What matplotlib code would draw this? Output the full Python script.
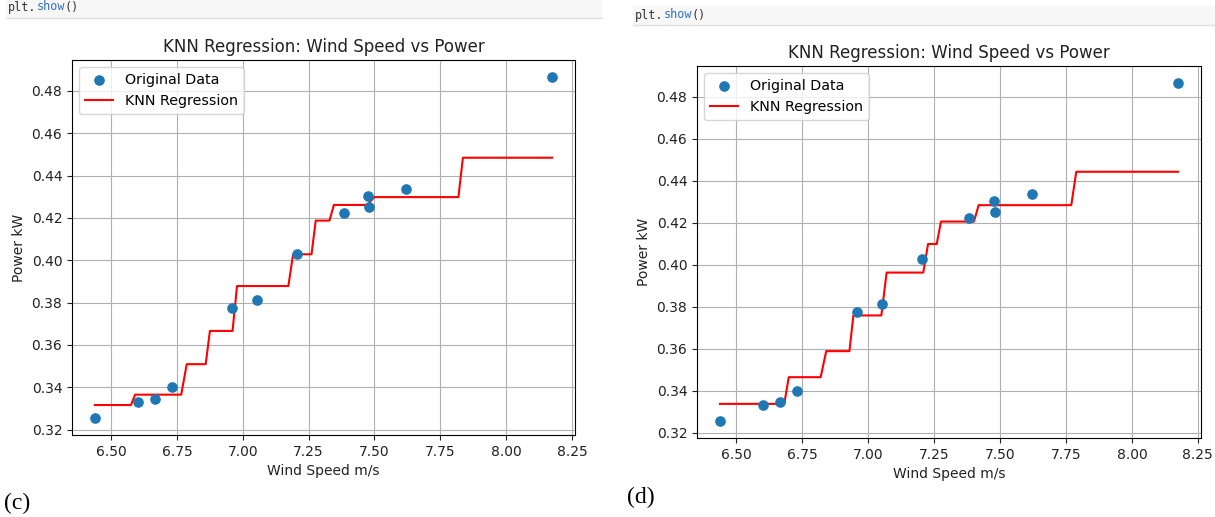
"""KNN regression: wind speed vs power, two panels (c) and (d)"""
import numpy as np
import matplotlib.pyplot as plt
from matplotlib.patches import Rectangle
from matplotlib.lines import Line2D

"""Data read off the picture"""
wind = [6.438, 6.603, 6.666, 6.731, 6.958, 7.054, 7.204, 7.384, 7.476, 7.479, 7.620, 8.175]
power = [0.3255, 0.3330, 0.3346, 0.3400, 0.3772, 0.3814, 0.4028, 0.4224, 0.4303, 0.4251, 0.4334, 0.4865]

# knn prediction steps, panel (c)
c_start = [6.438, 6.591, 6.787, 6.875, 6.978, 7.191, 7.277, 7.346, 7.499, 7.836]
c_end = [6.575, 6.766, 6.859, 6.961, 7.173, 7.261, 7.329, 7.473, 7.819, 8.175]
c_level = [0.3316, 0.3365, 0.3509, 0.3666, 0.3878, 0.4028, 0.4187, 0.4261, 0.4298, 0.4484]

# knn prediction steps, panel (d)
d_start = [6.438, 6.699, 6.841, 6.944, 7.070, 7.227, 7.276, 7.419, 7.789]
d_end = [6.682, 6.820, 6.929, 7.050, 7.209, 7.260, 7.401, 7.770, 8.175]
d_level = [0.3337, 0.3464, 0.3588, 0.3758, 0.3962, 0.4098, 0.4205, 0.4283, 0.4442]

W, H = 1215, 517
fig = plt.figure(figsize=(W/100, H/100), dpi=100)


def px(x0, y0, x1, y1):
    """pixel box (top-left origin) -> figure fraction rect"""
    return [x0/W, 1 - y1/H, (x1-x0)/W, (y1-y0)/H]


def steps(start, end, level):
    xs, ys = [], []
    for a, b, v in zip(start, end, level):
        xs += [a, b]
        ys += [v, v]
    return xs, ys


def panel(rect, start, end, level):
    ax = fig.add_axes(rect)
    ax.scatter(wind, power, s=44, color='#1f77b4', label='Original Data', zorder=3)
    xs, ys = steps(start, end, level)
    ax.plot(xs, ys, color='red', lw=1.5, label='KNN Regression', zorder=2)
    ax.set_xticks([6.5, 6.75, 7.0, 7.25, 7.5, 7.75, 8.0, 8.25])
    ax.set_xticklabels(['6.50', '6.75', '7.00', '7.25', '7.50', '7.75', '8.00', '8.25'])
    ax.set_yticks([0.32, 0.34, 0.36, 0.38, 0.40, 0.42, 0.44, 0.46, 0.48])
    ax.set_yticklabels(['0.32', '0.34', '0.36', '0.38', '0.40', '0.42', '0.44', '0.46', '0.48'])
    ax.tick_params(labelsize=10, colors='#222222')
    ax.set_xlabel('Wind Speed m/s', fontsize=10, color='#222222', labelpad=4)
    ax.set_ylabel('Power kW', fontsize=10, color='#222222', labelpad=4)
    ax.set_title('KNN Regression: Wind Speed vs Power', fontsize=12, color='#222222', pad=6)
    ax.grid(True, color='#b0b0b0', lw=0.8)
    ax.legend(loc='upper left', fontsize=10.3)
    return ax


"""Code cell strips at the top"""
fig.add_artist(Rectangle((6/W, 1 - 18/H), 596/W, 18/H, transform=fig.transFigure,
                         facecolor='#f7f7f7', edgecolor='none'))
fig.add_artist(Line2D([6/W, 602/W], [1 - 18/H, 1 - 18/H], transform=fig.transFigure,
                      color='#e0e0e0', lw=1))
fig.add_artist(Rectangle((633/W, 1 - 25/H), 582/W, 19/H, transform=fig.transFigure,
                         facecolor='#f7f7f7', edgecolor='none'))
fig.add_artist(Line2D([633/W, 1.0], [1 - 25/H, 1 - 25/H], transform=fig.transFigure,
                      color='#e0e0e0', lw=1))

cw = 7.1  # char width of mono font in px
for x0, yc in [(8, 7), (635, 15)]:
    for i, (txt, col) in enumerate([('plt.', '#333333'), ('show', '#3070c0'), ('()', '#333333')]):
        off = [0, 4, 8][i]
        fig.text((x0 + off*cw)/W, 1 - yc/H, txt, family='DejaVu Sans Mono', fontsize=8.5,
                 color=col, va='center', ha='left')

"""Panels"""
panel(px(72, 60, 575, 435), c_start, c_end, c_level)
panel(px(697, 66, 1201, 438), d_start, d_end, d_level)

fig.text(4/W, 1 - 503/H, '(c)', family='Liberation Serif', fontsize=17, va='center', ha='left')
fig.text(627/W, 1 - 497/H, '(d)', family='Liberation Serif', fontsize=17, va='center', ha='left')

plt.savefig('out.png', dpi=100)
